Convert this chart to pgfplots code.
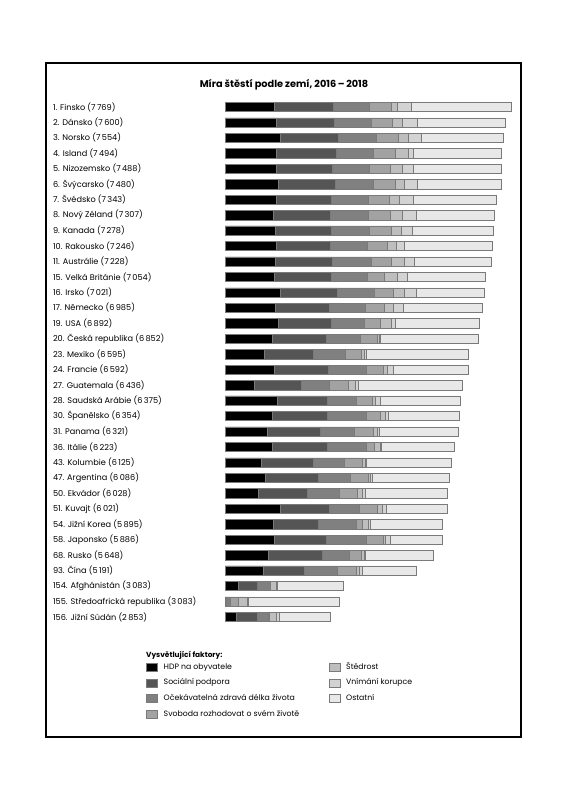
\documentclass[border=0pt]{standalone}
\usepackage{pgfplots}
\pgfplotsset{compat=1.18}
\usepackage{pgfplotstable}
\usepackage{fontspec}
\setmainfont{Poppins}

\definecolor{fGdp}{HTML}{000000}
\definecolor{fSoc}{HTML}{555555}
\definecolor{fHlth}{HTML}{808080}
\definecolor{fFree}{HTML}{A2A2A2}
\definecolor{fGen}{HTML}{BEBEBE}
\definecolor{fCorr}{HTML}{D3D3D3}
\definecolor{fRest}{HTML}{E8E8E8}
\definecolor{edge}{HTML}{7A7A7A}

% WHR 2019 (2016-2018), y = 34 for the top row
\pgfplotstableread{
y  gdp   soc   hlth  free  gen   corr  rest
34 1.340 1.587 0.986 0.596 0.153 0.393 2.714
33 1.383 1.573 0.996 0.592 0.252 0.410 2.394
32 1.488 1.582 1.028 0.603 0.271 0.341 2.241
31 1.380 1.624 1.026 0.591 0.354 0.118 2.401
30 1.396 1.522 0.999 0.557 0.322 0.298 2.394
29 1.452 1.526 1.052 0.572 0.263 0.343 2.272
28 1.387 1.487 1.009 0.574 0.267 0.373 2.246
27 1.303 1.557 1.026 0.585 0.330 0.380 2.126
26 1.365 1.505 1.039 0.584 0.285 0.308 2.192
25 1.376 1.475 1.016 0.532 0.244 0.226 2.377
24 1.372 1.548 1.036 0.557 0.332 0.290 2.093
23 1.333 1.538 0.996 0.450 0.348 0.278 2.111
22 1.499 1.553 0.999 0.516 0.298 0.310 1.846
21 1.373 1.454 0.987 0.495 0.261 0.265 2.150
20 1.433 1.457 0.874 0.454 0.280 0.128 2.266
19 1.269 1.487 0.920 0.457 0.046 0.036 2.637
18 1.070 1.323 0.861 0.433 0.074 0.073 2.761
17 1.324 1.472 1.045 0.436 0.111 0.183 2.021
16 0.800 1.269 0.746 0.535 0.175 0.078 2.833
15 1.403 1.357 0.795 0.439 0.080 0.132 2.169
14 1.286 1.484 1.062 0.362 0.153 0.079 1.928
13 1.149 1.442 0.910 0.516 0.109 0.054 2.141
12 1.294 1.488 1.039 0.231 0.158 0.030 1.983
11 0.985 1.410 0.841 0.470 0.099 0.034 2.286
10 1.092 1.432 0.881 0.471 0.066 0.050 2.094
9  0.912 1.312 0.868 0.498 0.126 0.087 2.225
8  1.500 1.319 0.808 0.493 0.142 0.097 1.662
7  1.301 1.219 1.036 0.159 0.175 0.056 1.949
6  1.327 1.419 1.088 0.445 0.069 0.140 1.398
5  1.183 1.452 0.726 0.334 0.082 0.031 1.840
4  1.029 1.125 0.893 0.521 0.058 0.100 1.465
3  0.350 0.517 0.361 0.000 0.158 0.025 1.792
2  0.026 0.000 0.105 0.225 0.235 0.035 2.457
1  0.306 0.575 0.295 0.010 0.202 0.091 1.374
}\whr

\pgfplotsset{sqleg/.style={legend image code/.code={\draw[##1] (0bp,-4bp) rectangle (11bp,4bp);}}}
\newcommand\colA[1]{\makebox[165bp][l]{#1}}

\begin{document}
\begin{tikzpicture}
\path[use as bounding box, fill=white] (0,0) rectangle (568bp,800bp);
\draw[line width=1.1bp] (46bp,63bp) rectangle (521bp,737bp);
\node[font=\bfseries\fontsize{9.8}{11}\selectfont] at (284bp,715bp) {Míra štěstí podle zemí, 2016\,–\,2018};
\node[anchor=west, inner sep=0pt, font=\bfseries\fontsize{7.4}{8}\selectfont] at (146bp,145bp) {Vysvětlující faktory:};

\begin{axis}[
    at={(225bp,175.3bp)}, anchor=south west,
    scale only axis, width=295.2bp, height=525.45bp,
    xmin=0, xmax=8, ymin=0.5, ymax=34.5,
    xbar stacked, bar width=0.6,
    axis line style={draw=none}, tick style={draw=none},
    xtick=\empty,
    ytick={1,...,34},
    yticklabels={
        {156. Jižní Súdán (2\,853)},
        {155. Středoafrická republika (3\,083)},
        {154. Afghánistán (3\,083)},
        {93. Čína (5\,191)},
        {68. Rusko (5\,648)},
        {58. Japonsko (5\,886)},
        {54. Jižní Korea (5\,895)},
        {51. Kuvajt (6\,021)},
        {50. Ekvádor (6\,028)},
        {47. Argentina (6\,086)},
        {43. Kolumbie (6\,125)},
        {36. Itálie (6\,223)},
        {31. Panama (6\,321)},
        {30. Španělsko (6\,354)},
        {28. Saudská Arábie (6\,375)},
        {27. Guatemala (6\,436)},
        {24. Francie (6\,592)},
        {23. Mexiko (6\,595)},
        {20. Česká republika (6\,852)},
        {19. USA (6\,892)},
        {17. Německo (6\,985)},
        {16. Irsko (7\,021)},
        {15. Velká Británie (7\,054)},
        {11. Austrálie (7\,228)},
        {10. Rakousko (7\,246)},
        {9. Kanada (7\,278)},
        {8. Nový Zéland (7\,307)},
        {7. Švédsko (7\,343)},
        {6. Švýcarsko (7\,480)},
        {5. Nizozemsko (7\,488)},
        {4. Island (7\,494)},
        {3. Norsko (7\,554)},
        {2. Dánsko (7\,600)},
        {1. Finsko (7\,769)}},
    yticklabel style={anchor=west, xshift=-175.5bp, font=\fontsize{8.2}{9}\selectfont},
    every axis plot post/.append style={sqleg},
    transpose legend, legend columns=4, legend cell align=left,
    legend style={draw=none, fill=none, inner sep=0pt,
        at={(axis description cs:-0.2676,-0.0723)}, anchor=north west,
        nodes={inner sep=0pt, text height=6bp, text depth=2bp, font=\fontsize{7.8}{8}\selectfont},
        row sep=7.3bp,
        /tikz/every odd column/.append style={column sep=6bp}},
]
\addplot[draw=edge, line width=0.5bp, fill=fGdp]  table[x=gdp, y=y] {\whr};
\addlegendentry{\colA{HDP na obyvatele}}
\addplot[draw=edge, line width=0.5bp, fill=fSoc]  table[x=soc, y=y] {\whr};
\addlegendentry{\colA{Sociální podpora}}
\addplot[draw=edge, line width=0.5bp, fill=fHlth] table[x=hlth, y=y] {\whr};
\addlegendentry{\colA{Očekávatelná zdravá délka života}}
\addplot[draw=edge, line width=0.5bp, fill=fFree] table[x=free, y=y] {\whr};
\addlegendentry{\colA{Svoboda rozhodovat o svém životě}}
\addplot[draw=edge, line width=0.5bp, fill=fGen]  table[x=gen, y=y] {\whr};
\addlegendentry{Štědrost}
\addplot[draw=edge, line width=0.5bp, fill=fCorr] table[x=corr, y=y] {\whr};
\addlegendentry{Vnímání korupce}
\addplot[draw=edge, line width=0.5bp, fill=fRest] table[x=rest, y=y] {\whr};
\addlegendentry{Ostatní}
\end{axis}
\end{tikzpicture}
\end{document}
